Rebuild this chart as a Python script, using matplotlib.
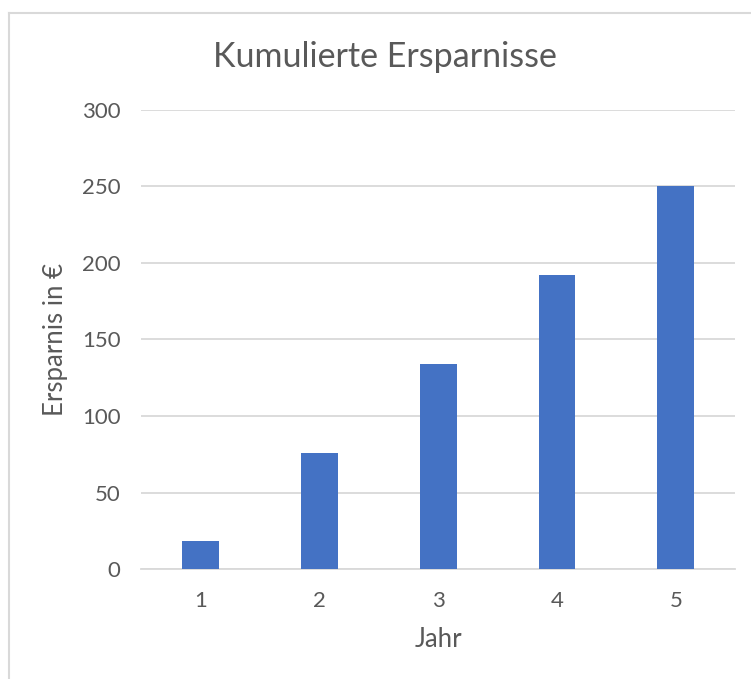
import matplotlib.pyplot as plt
from matplotlib.lines import Line2D

# data
years = [1, 2, 3, 4, 5]
savings = [18, 76, 134, 192, 250]
yticks = [0, 50, 100, 150, 200, 250, 300]

BAR = '#4472C4'
GRID = '#D9D9D9'
TEXT = '#595959'

plt.rcParams['font.family'] = ['Lato', 'DejaVu Sans']

W, H = 751, 679
fig = plt.figure(figsize=(W / 100, H / 100), dpi=100)
ax = fig.add_axes([0.188, 0.162, 0.791, 0.676])

ax.bar(years, savings, width=0.31, color=BAR, zorder=3)
ax.set_xlim(0.5, 5.5)
ax.set_ylim(0, 300)
ax.set_yticks(yticks)
ax.set_xticks(years)

ax.grid(axis='y', color=GRID, linewidth=1.3, zorder=0)
for side in ['top', 'right', 'left']:
    ax.spines[side].set_visible(False)
ax.spines['bottom'].set_color(GRID)
ax.spines['bottom'].set_linewidth(1.3)
ax.tick_params(axis='both', length=0, labelsize=16, colors=TEXT)
ax.tick_params(axis='y', pad=15)
ax.tick_params(axis='x', pad=16)

fig.text(385 / W, 1 - 67 / H, 'Kumulierte Ersparnisse', fontsize=24.5,
         color=TEXT, ha='center', va='baseline')
ax.set_xlabel('Jahr', fontsize=18.5, color=TEXT, labelpad=11)
ax.set_ylabel('Ersparnis in €', fontsize=18.5, color=TEXT, labelpad=10)

# chart-area border (only left and top edges visible in the crop)
fig.add_artist(Line2D([8.5 / W, 8.5 / W], [0, 1 - 12.5 / H], color=GRID, lw=1.5))
fig.add_artist(Line2D([8.5 / W, 1], [1 - 12.5 / H, 1 - 12.5 / H], color=GRID, lw=1.5))

fig.savefig('out.png', dpi=100)
